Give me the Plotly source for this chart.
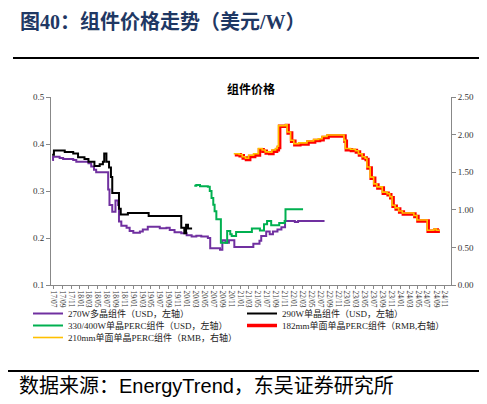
import plotly.graph_objects as go

# ---------------- data ----------------
d_270 = ["2017-06-25","2017-07-01","2017-08-15","2017-09-08","2017-11-16","2017-12-07","2018-02-28",
         "2018-03-19","2018-04-07","2018-04-22","2018-07-13","2018-07-22","2018-08-10","2018-09-01",
         "2018-09-19","2018-09-25","2018-10-11","2018-11-16","2018-12-07","2019-01-01","2019-02-15",
         "2019-03-07","2019-04-10","2019-07-01","2019-08-16","2019-09-07","2019-10-10","2019-11-25",
         "2020-01-01","2020-02-04","2020-03-07","2020-04-10","2020-05-25","2020-06-10","2020-08-16",
         "2020-09-01","2020-09-22","2020-10-16","2020-11-22","2021-02-25","2021-04-01","2021-05-13",
         "2021-05-25","2021-06-28","2021-07-22","2021-08-13","2021-09-13","2021-10-10","2021-11-04",
         "2022-01-10","2022-02-01","2022-08-01"]
v_270 = [0.366,0.373,0.370,0.368,0.366,0.362,0.359,
         0.352,0.345,0.340,0.303,0.270,0.256,0.280,
         0.270,0.235,0.226,0.222,0.215,0.211,0.214,
         0.218,0.224,0.221,0.222,0.217,0.212,0.210,
         0.206,0.203,0.205,0.203,0.200,0.178,0.175,
         0.195,0.190,0.195,0.181,0.181,0.188,0.194,
         0.204,0.214,0.208,0.214,0.218,0.223,0.236,
         0.234,0.236,0.236]

d_290 = ["2017-06-25","2017-07-07","2017-09-19","2017-11-16","2017-12-19","2018-02-01","2018-02-28",
         "2018-04-10","2018-05-16","2018-06-07","2018-06-16","2018-07-01","2018-07-19","2018-08-01",
         "2018-08-10","2018-09-25","2018-10-07","2018-11-25","2019-04-16","2019-11-25","2019-12-16",
         "2019-12-28","2020-01-10","2020-02-07"]
v_290 = [0.377,0.386,0.383,0.380,0.372,0.368,0.362,
         0.353,0.357,0.362,0.380,0.362,0.350,0.330,
         0.296,0.262,0.250,0.253,0.247,0.222,0.210,
         0.228,0.220,0.220]

d_400 = ["2020-02-22","2020-03-07","2020-04-01","2020-05-25","2020-06-07","2020-06-19","2020-07-01",
         "2020-07-10","2020-07-22","2020-08-22","2020-10-04","2020-10-25","2020-11-04","2020-12-04",
         "2021-03-22","2021-05-16","2021-06-13","2021-07-04","2021-08-01","2021-09-25","2021-11-01",
         "2021-11-07","2022-03-07"]
v_400 = [0.311,0.313,0.310,0.309,0.300,0.285,0.271,
         0.257,0.240,0.190,0.215,0.208,0.204,0.213,
         0.220,0.216,0.229,0.236,0.227,0.232,0.236,
         0.261,0.261]

d_182 = ["2020-11-25","2021-01-01","2021-01-22","2021-02-13","2021-03-07","2021-04-10","2021-05-13",
         "2021-06-07","2021-06-28","2021-07-22","2021-08-13","2021-09-07","2021-09-19","2021-09-28",
         "2021-11-13","2021-11-25","2021-12-19","2022-01-10","2022-02-13","2022-04-10","2022-05-25",
         "2022-06-28","2022-07-22","2022-08-25","2022-12-19","2022-12-28","2023-02-01","2023-03-07",
         "2023-03-28","2023-04-22","2023-05-13","2023-05-25","2023-06-16","2023-07-10","2023-08-01",
         "2023-09-07","2023-10-10","2023-10-28","2023-11-13","2023-12-04","2023-12-28","2024-01-22",
         "2024-04-10","2024-05-01","2024-07-10","2024-08-25","2024-09-10","2024-09-28"]
v_182 = [1.733,1.720,1.690,1.670,1.710,1.730,1.800,
         1.780,1.755,1.750,1.780,1.800,1.830,2.110,
         2.120,2.020,1.910,1.866,1.875,1.900,1.920,
         1.930,1.960,1.980,1.910,1.800,1.790,1.770,
         1.730,1.690,1.670,1.556,1.420,1.330,1.290,
         1.220,1.200,1.160,1.046,1.010,0.970,0.944,
         0.910,0.850,0.714,0.730,0.714,0.714]

d_210 = ["2020-11-18","2020-12-25","2021-01-15","2021-02-06","2021-02-28","2021-04-03","2021-05-06",
         "2021-05-31","2021-06-21","2021-07-15","2021-08-06","2021-08-31","2021-09-12","2021-09-20",
         "2021-11-06","2021-11-18","2021-12-12","2022-01-03","2022-02-06","2022-04-03","2022-05-18",
         "2022-06-21","2022-07-15","2022-08-18","2022-12-12","2022-12-21","2023-01-25","2023-02-28",
         "2023-03-21","2023-04-15","2023-05-06","2023-05-18","2023-06-09","2023-07-03","2023-07-25",
         "2023-08-31","2023-10-03","2023-10-21","2023-11-06","2023-11-27","2023-12-21","2024-01-15",
         "2024-04-03","2024-04-24","2024-07-03","2024-08-18","2024-09-03","2024-09-28"]
v_210 = [1.745,1.735,1.705,1.685,1.725,1.745,1.815,
         1.795,1.770,1.765,1.795,1.815,1.845,2.120,
         2.130,2.035,1.925,1.880,1.890,1.915,1.935,
         1.945,1.975,1.995,1.925,1.815,1.805,1.785,
         1.745,1.705,1.685,1.570,1.435,1.345,1.305,
         1.235,1.215,1.175,1.060,1.025,0.985,0.958,
         0.925,0.865,0.728,0.744,0.728,0.728]

names = ["270W多晶组件（USD，左轴）", "290W单晶组件（USD，左轴）",
         "330/400W单晶PERC组件（USD，左轴）", "182mm单面单晶PERC组件（RMB,右轴）",
         "210mm单面单晶PERC组件（RMB，右轴）"]

# ---------------- figure ----------------
SERIF = "Liberation Serif, Noto Sans CJK SC, serif"
CJK = "Noto Sans CJK SC, sans-serif"

fig = go.Figure()
fig.add_trace(go.Scatter(x=d_270, y=v_270, name=names[0], mode="lines", legend="legend",
                         line=dict(color="#7030A0", width=2, shape="hv")))
fig.add_trace(go.Scatter(x=d_290, y=v_290, name=names[1], mode="lines", legend="legend",
                         line=dict(color="#000000", width=2, shape="hv")))
fig.add_trace(go.Scatter(x=d_400, y=v_400, name=names[2], mode="lines", legend="legend2",
                         line=dict(color="#00B050", width=2, shape="hv")))
fig.add_trace(go.Scatter(x=d_182, y=v_182, name=names[3], mode="lines", yaxis="y2", legend="legend2",
                         line=dict(color="#FF0000", width=3.5, shape="hv")))
fig.add_trace(go.Scatter(x=d_210, y=v_210, name=names[4], mode="lines", yaxis="y2", legend="legend3",
                         line=dict(color="#FFC000", width=1.6, shape="hv")))

L, R, T, B = 43, 44, 89, 127
W, H = 487, 404
pw, ph = W - L - R, H - T - B
def px(x): return (x - L) / pw
def py(y): return (H - B - y) / ph

def legend_at(top):
    return dict(orientation="h", x=px(20), y=py(top), xanchor="left", yanchor="top",
                font=dict(family=SERIF, size=9, color="#222"),
                entrywidth=169, itemwidth=30, tracegroupgap=0, borderwidth=0,
                bgcolor="rgba(0,0,0,0)")

fig.update_layout(
    width=W, height=H,
    margin=dict(l=L, r=R, t=T, b=B, autoexpand=False),
    paper_bgcolor="white", plot_bgcolor="white",
    showlegend=True,
    legend=legend_at(291),
    legend2=legend_at(303),
    legend3=legend_at(315),
    xaxis=dict(type="date", range=["2017-06-17", "2024-12-13"],
               tick0="2017-07-01", dtick="M2", tickformat="%y/%m", tickangle=90,
               ticks="outside", ticklen=3, tickcolor="#888", showline=True, linecolor="#888",
               linewidth=1, showgrid=False, zeroline=False,
               tickfont=dict(family=SERIF, size=7.5, color="#333")),
    yaxis=dict(range=[0.1, 0.5], dtick=0.1, tickformat=".1f", ticks="outside", ticklen=4,
               tickcolor="#888", showline=True, linecolor="#888", showgrid=False, zeroline=False,
               tickfont=dict(family=SERIF, size=9, color="#333")),
    yaxis2=dict(range=[0, 2.5], dtick=0.5, tickformat=".2f", overlaying="y", side="right",
                ticks="outside", ticklen=4, tickcolor="#888", showline=True, linecolor="#888",
                showgrid=False, zeroline=False,
                tickfont=dict(family=SERIF, size=9, color="#333")),
    annotations=[
        dict(text="<b>图40：组件价格走势（美元/W）</b>", xref="paper", yref="paper",
             x=px(10), y=py(14), xanchor="left", yanchor="middle", showarrow=False,
             font=dict(family=SERIF, size=20, color="#1F3864")),
        dict(text="<b>组件价格</b>", xref="paper", yref="paper",
             x=px(243), y=py(80), xanchor="center", yanchor="middle", showarrow=False,
             font=dict(family=CJK, size=12, color="#000")),
        dict(text="数据来源：EnergyTrend，东吴证券研究所", xref="paper", yref="paper",
             x=px(9), y=py(378), xanchor="left", yanchor="middle", showarrow=False,
             font=dict(family="Liberation Sans, Noto Sans CJK SC, sans-serif", size=20, color="#000")),
    ],
    shapes=[
        dict(type="line", xref="paper", yref="paper", x0=px(5), x1=px(482), y0=py(50), y1=py(50),
             line=dict(color="#000", width=2)),
        dict(type="line", xref="paper", yref="paper", x0=px(0), x1=px(482), y0=py(363), y1=py(363),
             line=dict(color="#000", width=2)),
    ],
)

fig.write_html("out.html")
